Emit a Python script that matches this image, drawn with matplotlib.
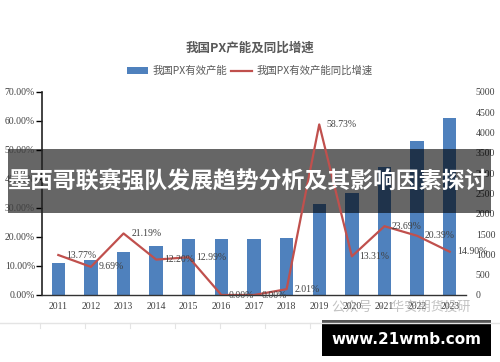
import matplotlib.pyplot as plt
from matplotlib.patches import Rectangle, Patch
from matplotlib.lines import Line2D

# data
years = ['2011', '2012', '2013', '2014', '2015', '2016', '2017',
         '2018', '2019', '2020', '2021', '2022', '2023']
capacity = [795, 860, 1064, 1211, 1368, 1368, 1368, 1393, 2228, 2510, 3137, 3784, 4357]
growth = [13.77, 9.69, 21.19, 12.20, 12.99, 0.00, 0.00, 2.01, 58.73, 13.31, 23.69, 20.39, 14.90]
growth_labels = ['13.77%', '9.69%', '21.19%', '12.20%', '12.99%', '0.00%', '0.00%',
                 '2.01%', '58.73%', '13.31%', '23.69%', '20.39%', '14.90%']
left_ticks = [0, 10, 20, 30, 40, 50, 60, 70]
right_ticks = [0, 500, 1000, 1500, 2000, 2500, 3000, 3500, 4000, 4500, 5000]

title = '我国PX产能及同比增速'
bar_name = '我国PX有效产能'
line_name = '我国PX有效产能同比增速'
banner = '墨西哥联赛强队发展趋势分析及其影响因素探讨'
watermark = '公众号 · 华安期货投研'
site = 'www.21wmb.com'

W, H = 500, 362
cjk = ['Noto Sans CJK SC', 'DejaVu Sans']
serif = 'Liberation Serif'
blue = '#4f81bd'
red = '#c0504d'
grey_txt = '#404040'

fig = plt.figure(figsize=(W / 100, H / 100), dpi=100)
ax = fig.add_axes([42 / W, 1 - 295 / H, (466 - 42) / W, (295 - 91.7) / H])
ax2 = ax.twinx()

x = list(range(len(years)))
ax2.bar(x, capacity, width=0.41, color=blue)
ax.plot(x, growth, color=red, lw=1.6)
for i, (g, lbl) in enumerate(zip(growth, growth_labels)):
    ax.annotate(lbl, (i, g), xytext=(5.5, 0), textcoords='offset points',
                ha='left', va='center', fontsize=7, family=serif, color=grey_txt)

# line above bars
ax.set_zorder(ax2.get_zorder() + 1)
ax.patch.set_visible(False)

ax.set_xlim(-0.5, 12.5)
ax.set_ylim(0, 70)
ax2.set_ylim(0, 5000)
ax.set_xticks(x)
ax.set_xticklabels(years, fontsize=7, family=serif, color=grey_txt)
ax.tick_params(axis='x', length=0, pad=5)
ax.set_yticks(left_ticks)
ax.set_yticklabels([f'{v:.2f}%' for v in left_ticks], fontsize=7, family=serif, color=grey_txt)
ax.tick_params(axis='y', length=4, width=1, direction='out', pad=1)
ax2.set_yticks(right_ticks)
ax2.set_yticklabels([str(v) for v in right_ticks], fontsize=7, family=serif, color=grey_txt)
ax2.tick_params(axis='y', length=0, pad=7)

for a in (ax, ax2):
    a.spines['top'].set_visible(False)
    a.spines['right'].set_visible(False)
ax2.spines['left'].set_visible(False)
ax2.spines['bottom'].set_visible(False)
ax.spines['left'].set_color('#222222')
ax.spines['left'].set_linewidth(1.2)
ax.spines['bottom'].set_color('#333333')
ax.spines['bottom'].set_linewidth(1.0)

fig.text(0.5, 1 - 48 / H, title, ha='center', va='center', fontsize=9,
         weight='bold', color='#595959', family=cjk)
handles = [Patch(facecolor=blue, edgecolor='none'), Line2D([0], [0], color=red, lw=1.6)]
fig.legend(handles, [bar_name, line_name], loc='center', bbox_to_anchor=(0.5, 1 - 71 / H),
           ncol=2, frameon=False, handlelength=2.0, handleheight=0.6, handletextpad=0.5,
           columnspacing=0.3, prop={'family': cjk, 'size': 7.5}, labelcolor='#595959')

# page decoration below the chart
fig.add_artist(Line2D([0, 1], [1 - 323 / H] * 2, transform=fig.transFigure,
                      color='#e4e4e4', lw=1))
for px in [40, 85, 130, 175, 220, 265, 310]:
    fig.add_artist(Line2D([px / W] * 2, [1 - 323 / H, 1 - 328 / H],
                          transform=fig.transFigure, color='#e4e4e4', lw=0.8))

fig.text(332 / W, 1 - 307 / H, watermark, ha='left', va='center', fontsize=9.5,
         color='#9a9a9a', alpha=0.6, family=cjk)

# dark banner with headline
fig.add_artist(Rectangle((8 / W, 1 - 213 / H), (491 - 8) / W, 64 / H,
                         transform=fig.transFigure, facecolor='black', alpha=0.6,
                         edgecolor='none'))
fig.text(8 / W, 1 - 182 / H, banner, ha='left', va='center', fontsize=16.5,
         weight='bold', color='white', family=cjk)

# site box
fig.add_artist(Rectangle((322 / W, 1 - 356 / H), 169 / W, 36 / H,
                         transform=fig.transFigure, facecolor='black', edgecolor='none'))
fig.add_artist(Rectangle((322 / W, 1 - 323 / H), 169 / W, 3 / H,
                         transform=fig.transFigure, facecolor='#555555', edgecolor='none'))
fig.text(406 / W, 1 - 339 / H, site, ha='center', va='center', fontsize=11,
         weight='bold', color='white', family='DejaVu Sans')

fig.savefig('out.png', dpi=100)
